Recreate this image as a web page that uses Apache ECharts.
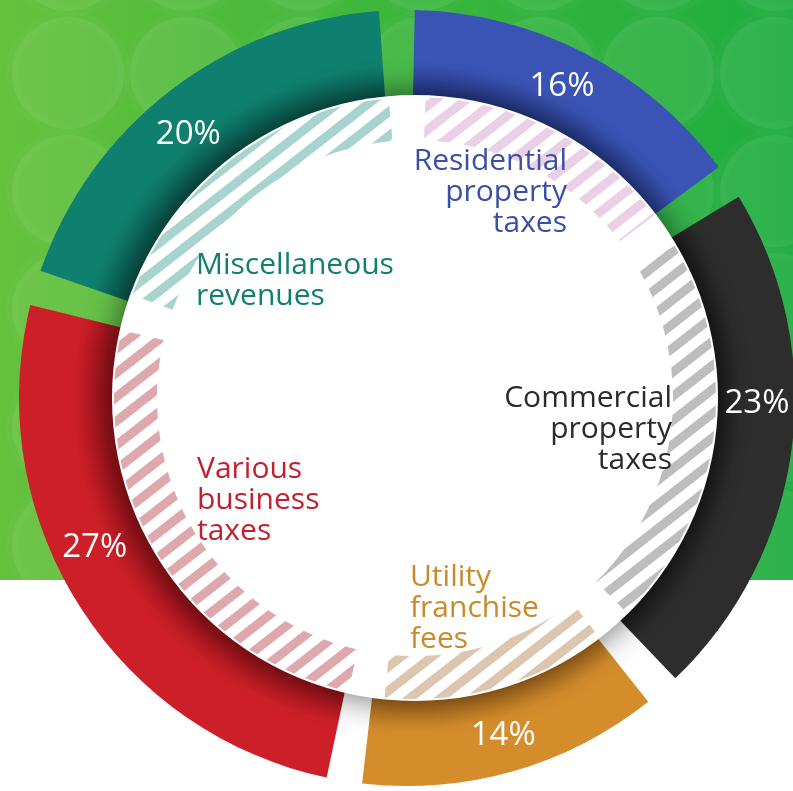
<!DOCTYPE html>
<html>
<head>
<meta charset="utf-8">
<script src="https://cdn.jsdelivr.net/npm/echarts@6/dist/echarts.min.js"></script>
<style>
  html, body { margin: 0; padding: 0; background: #fff; }
  #chart { width: 793px; height: 791px; }
</style>
</head>
<body>
<div id="chart"></div>
<script>
// Revenue sources, clockwise from twelve o'clock
const categories = [
  'Residential property taxes',
  'Commercial property taxes',
  'Utility franchise fees',
  'Various business taxes',
  'Miscellaneous revenues'
];
const shares = [16, 23, 14, 27, 20];
const nameLines = [
  ['Residential', 'property', 'taxes'],
  ['Commercial', 'property', 'taxes'],
  ['Utility', 'franchise', 'fees'],
  ['Various', 'business', 'taxes'],
  ['Miscellaneous', 'revenues']
];

// ---- styling ----
const FONT = "'Open Sans', 'Noto Sans', sans-serif";
const RING_CENTER = [407, 398];
const DISC_CENTER = [415, 398];
const START = 91.5;

const ringOuter = ['#3a54b6', '#2d2d2d', '#d58d2c', '#cd1f28', '#0f7f6f'];
const ringInner = ['#263a8c', '#1b1b1b', '#b3701d', '#a3141c', '#0a5e53'];
const stripeColors = ['#ead0e7', '#bdbdbd', '#dcc6b0', '#dea9ae', '#a9d3cf'];
const nameColors = ['#3a4fa6', '#2b2b2b', '#c98a2c', '#c41f2d', '#137f6f'];

// where each category name block sits inside the disc
const nameAnchors = [
  { x: 567, y: 146, align: 'right' },
  { x: 672, y: 383, align: 'right' },
  { x: 410, y: 562, align: 'left' },
  { x: 197, y: 454, align: 'left' },
  { x: 196, y: 250, align: 'left' }
];
// small nudges for percentage labels
const shareNudges = [[-6, 0], [2, -40], [0, 0], [-15, -37], [-5, 15]];

function ringFill(i) {
  return {
    type: 'radial', x: RING_CENTER[0], y: RING_CENTER[1], r: 388, global: true,
    colorStops: [
      { offset: 0, color: ringInner[i] },
      { offset: 0.78, color: ringInner[i] },
      { offset: 0.86, color: ringOuter[i] },
      { offset: 1, color: ringOuter[i] }
    ]
  };
}

// bokeh circles on the green backdrop
const bubbles = [];
for (let row = 0; row < 6; row++) {
  for (let col = 0; col < 7; col++) {
    bubbles.push({
      type: 'circle', silent: true,
      shape: { cx: 68 + 118 * col, cy: -45 + 118 * row, r: 56 },
      style: { fill: 'rgba(255,255,255,0.07)', stroke: 'rgba(255,255,255,0.025)', lineWidth: 12 }
    });
  }
}

const chart = echarts.init(document.getElementById('chart'), null, { renderer: 'canvas' });

chart.setOption({
  backgroundColor: '#ffffff',
  animation: false,
  graphic: [
    {
      type: 'rect', silent: true,
      shape: { x: 0, y: 0, width: 793, height: 580 },
      style: {
        fill: new echarts.graphic.LinearGradient(0, 0, 1, 0, [
          { offset: 0, color: '#66c13c' },
          { offset: 0.5, color: '#3cb63c' },
          { offset: 1, color: '#1fad41' }
        ])
      }
    },
    ...bubbles,
    {
      type: 'rect', silent: true,
      shape: { x: 0, y: 580, width: 793, height: 211 },
      style: { fill: '#ffffff' }
    }
  ],
  series: [
    {
      // outer coloured ring
      type: 'pie', silent: true, z: 2,
      center: RING_CENTER, radius: [240, 388],
      startAngle: START, padAngle: 5.3,
      label: { show: false }, labelLine: { show: false },
      data: categories.map((name, i) => ({
        name, value: shares[i], itemStyle: { color: ringFill(i) }
      }))
    },
    {
      // white disc with its drop shadow
      type: 'pie', silent: true, z: 3,
      center: DISC_CENTER, radius: [0, 303],
      label: { show: false }, labelLine: { show: false },
      itemStyle: { color: '#ffffff', shadowBlur: 34, shadowColor: 'rgba(0,0,0,0.6)' },
      data: [{ name: 'disc', value: 1 }]
    },
    {
      // hatched inner band, carries the category names
      type: 'pie', silent: true, z: 4,
      center: DISC_CENTER, radius: [258, 301],
      startAngle: START, padAngle: 7,
      avoidLabelOverlap: false,
      labelLine: { show: false },
      label: {
        show: true, position: 'inside',
        fontFamily: FONT, fontSize: 30, lineHeight: 31,
        formatter: p => nameLines[p.dataIndex].join('\n')
      },
      labelLayout: p => {
        const a = nameAnchors[p.dataIndex];
        return { x: a.x, y: a.y, align: a.align, verticalAlign: 'top' };
      },
      data: categories.map((name, i) => ({
        name, value: shares[i],
        label: { color: nameColors[i] },
        itemStyle: {
          color: '#ffffff',
          decal: {
            symbol: 'rect', symbolSize: 1, color: stripeColors[i],
            dashArrayX: [1, 0], dashArrayY: [9, 10],
            rotation: -Math.PI * 38 / 180
          }
        }
      }))
    },
    {
      // percentage labels riding on the ring
      type: 'pie', silent: true, z: 5,
      center: RING_CENTER, radius: [310, 386],
      startAngle: START, padAngle: 5.3,
      avoidLabelOverlap: false,
      labelLine: { show: false },
      itemStyle: { color: 'rgba(0,0,0,0)' },
      label: {
        show: true, position: 'inside', color: '#ffffff',
        fontFamily: FONT, fontSize: 33,
        formatter: p => p.value + '%'
      },
      labelLayout: p => ({ dx: shareNudges[p.dataIndex][0], dy: shareNudges[p.dataIndex][1] }),
      data: categories.map((name, i) => ({ name, value: shares[i] }))
    }
  ]
});
</script>
</body>
</html>
